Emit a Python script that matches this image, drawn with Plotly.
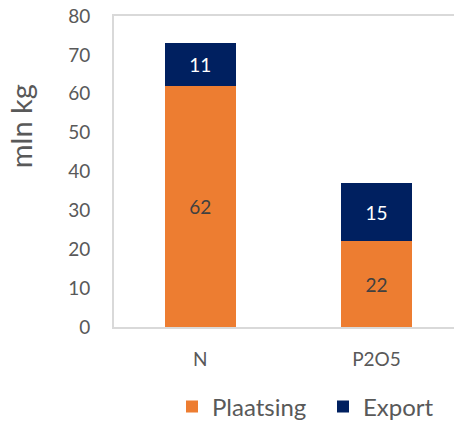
import plotly.graph_objects as go

categories = ["N", "P2O5"]
plaatsing = [62, 22]
export = [11, 15]
y_ticks = [0, 10, 20, 30, 40, 50, 60, 70, 80]

FONT = "Lato"
GREY = "#595959"

fig = go.Figure()
fig.add_trace(go.Bar(
    x=categories, y=plaatsing, name="Plaatsing",
    marker=dict(color="#ED7D31", line=dict(width=0)),
    text=[str(v) for v in plaatsing], textposition="inside",
    insidetextanchor="middle",
    textfont=dict(family=FONT, size=19, color="#404040"),
    width=0.4,
))
fig.add_trace(go.Bar(
    x=categories, y=export, name="Export",
    marker=dict(color="#002060", line=dict(width=0)),
    text=[str(v) for v in export], textposition="inside",
    insidetextanchor="middle",
    textfont=dict(family=FONT, size=19, color="#FFFFFF"),
    width=0.4,
))

fig.update_layout(
    barmode="stack",
    width=454, height=421,
    margin=dict(l=114, r=0, t=16, b=94, autoexpand=False),
    paper_bgcolor="white", plot_bgcolor="white",
    font=dict(family=FONT, size=19, color=GREY),
    showlegend=True,
    legend=dict(
        orientation="h", xanchor="left", yanchor="middle",
        xref="container", yref="container",
        x=172 / 454, y=1 - 407 / 421,
        font=dict(family=FONT, size=24, color=GREY),
        traceorder="normal", itemwidth=30,
        entrywidth=106, entrywidthmode="pixels",
    ),
)
fig.update_xaxes(
    range=[-0.49, 1.44],
    showline=True, linecolor="#D9D9D9", linewidth=2, mirror=True,
    showgrid=False, ticks="", tickfont=dict(family=FONT, size=19, color=GREY),
    ticklabelstandoff=14,
)
fig.update_yaxes(
    range=[0, 80], tickvals=y_ticks,
    showline=True, linecolor="#D9D9D9", linewidth=2, mirror=False,
    showgrid=False, zeroline=False, ticks="",
    tickfont=dict(family=FONT, size=19, color=GREY),
    ticklabelstandoff=18,
)
fig.add_annotation(
    text="mln kg", textangle=-90, xref="paper", yref="paper",
    x=-0.274, y=0.645, xanchor="center", yanchor="middle", showarrow=False,
    font=dict(family=FONT, size=29, color=GREY),
)

fig.write_html("out.html")
